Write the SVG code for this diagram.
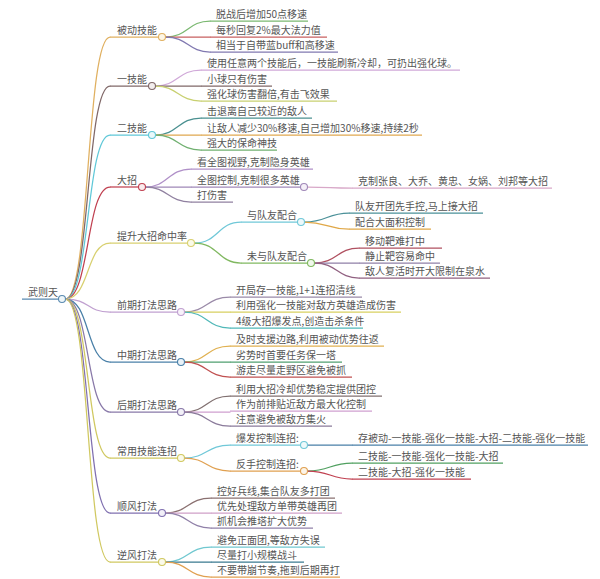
<svg xmlns="http://www.w3.org/2000/svg" width="600" height="579" viewBox="0 0 600 579">
<style>
text{font-family:"Noto Sans CJK SC","Noto Sans",sans-serif;font-size:10px;fill:#555}
.c{fill:none;stroke-width:1.25;stroke-linecap:round}
.u{stroke-width:1.25;fill:none}
.k{stroke-width:1.1}
</style>
<rect width="600" height="579" fill="#fff"/>
<g id="connectors" class="conn">
<path class="c" stroke="#e0b060" d="M65.5,299 C90,299 86,37 110,37"/>
<path class="c" stroke="#806868" d="M65.5,299 C90,299 86,86 110,86"/>
<path class="c" stroke="#60c8d8" d="M65.5,299 C90,299 86,135 110,135"/>
<path class="c" stroke="#c04050" d="M65.5,299 C90,299 86,187 110,187"/>
<path class="c" stroke="#d8d070" d="M65.5,299 C90,299 86,243 110,243"/>
<path class="c" stroke="#c0a0d0" d="M65.5,299 C90,299 86,312 110,312"/>
<path class="c" stroke="#4a80a8" d="M65.5,299 C90,299 86,362 110,362"/>
<path class="c" stroke="#8878a8" d="M65.5,299 C90,299 86,412 110,412"/>
<path class="c" stroke="#d0c860" d="M65.5,299 C90,299 86,458 110,458"/>
<path class="c" stroke="#8070b0" d="M65.5,299 C90,299 86,513 110,513"/>
<path class="c" stroke="#d0c860" d="M65.5,299 C90,299 86,562 110,562"/>
<path class="c" stroke="#7ab870" d="M165.5,37 C188,37 188,21 210,21"/>
<path class="c" stroke="#c86060" d="M165.5,37 L210,37"/>
<path class="c" stroke="#8078b0" d="M165.5,37 C188,37 188,52 210,52"/>
<path class="c" stroke="#d0a8d8" d="M155.5,86 C178,86 178,70 201,70"/>
<path class="c" stroke="#806868" d="M155.5,86 L201,86"/>
<path class="c" stroke="#c8d070" d="M155.5,86 C178,86 178,101 201,101"/>
<path class="c" stroke="#4a9090" d="M155.5,135 C178,135 178,118 201,118"/>
<path class="c" stroke="#e0a850" d="M155.5,135 L201,135"/>
<path class="c" stroke="#70b070" d="M155.5,135 C178,135 178,150 201,150"/>
<path class="c" stroke="#b090c8" d="M145.5,187 C168,187 168,169 191,169"/>
<path class="c" stroke="#a088b8" d="M145.5,187 L191,187"/>
<path class="c" stroke="#9080a0" d="M145.5,187 C168,187 168,202 191,202"/>
<path class="c" stroke="#d8a8c8" d="M307.5,187 C330,187 330,188 352,188"/>
<path class="c" stroke="#70c8d8" d="M194.5,243 C218,243 218,222 241,222"/>
<path class="c" stroke="#80b860" d="M194.5,243 C218,243 218,263 241,263"/>
<path class="c" stroke="#4a9098" d="M304.5,222 C327,222 327,213 349,213"/>
<path class="c" stroke="#e0a848" d="M304.5,222 C327,222 327,229 349,229"/>
<path class="c" stroke="#b05060" d="M314.5,263 C337,263 337,248 359,248"/>
<path class="c" stroke="#9080a8" d="M314.5,263 L359,263"/>
<path class="c" stroke="#906080" d="M314.5,263 C337,263 337,278 359,278"/>
<path class="c" stroke="#9a8aa8" d="M184.5,312 C207,312 207,297 230,297"/>
<path class="c" stroke="#d8d060" d="M184.5,312 L230,312"/>
<path class="c" stroke="#50b8b8" d="M184.5,312 C207,312 207,328 230,328"/>
<path class="c" stroke="#e0b050" d="M184.5,362 C207,362 207,346 230,346"/>
<path class="c" stroke="#50a070" d="M184.5,362 L230,362"/>
<path class="c" stroke="#c05050" d="M184.5,362 C207,362 207,377 230,377"/>
<path class="c" stroke="#807070" d="M184.5,412 C207,412 207,396 230,396"/>
<path class="c" stroke="#d0a0d0" d="M184.5,412 L230,412"/>
<path class="c" stroke="#8a7a9a" d="M184.5,412 C207,412 207,426 230,426"/>
<path class="c" stroke="#70c8d8" d="M184.5,458 C207,458 207,445 230,445"/>
<path class="c" stroke="#e0a050" d="M184.5,458 C207,458 207,471 230,471"/>
<path class="c" stroke="#4a80a8" d="M307.5,445 L352,445"/>
<path class="c" stroke="#50a060" d="M307.5,471 C330,471 330,463 352,463"/>
<path class="c" stroke="#c04050" d="M307.5,471 C330,471 330,479 352,479"/>
<path class="c" stroke="#8a7070" d="M165.5,513 C188,513 188,498 211,498"/>
<path class="c" stroke="#d0a0c8" d="M165.5,513 L211,513"/>
<path class="c" stroke="#9080a8" d="M165.5,513 C188,513 188,528 211,528"/>
<path class="c" stroke="#70c8d0" d="M165.5,562 C188,562 188,547 211,547"/>
<path class="c" stroke="#3a7a90" d="M165.5,562 L211,562"/>
<path class="c" stroke="#e0a050" d="M165.5,562 C188,562 188,577 211,577"/>
</g>

<g id="root">
<line class="u" x1="22" y1="299" x2="58.5" y2="299" stroke="#5a8ab0"/>
<text x="28" y="296">武则天</text>
<circle class="k" cx="62" cy="299" r="3.5" fill="#eef6f9" stroke="#5a8ab0"/>
</g>

<g id="n-beidong">
<line class="u" x1="110" y1="37" x2="158.5" y2="37" stroke="#e0b060"/>
<text x="117" y="34">被动技能</text>
<circle class="k" cx="162" cy="37" r="3.5" fill="#fdf6e6" stroke="#e0b060"/>
</g>
<g id="n-beidong-1"><line class="u" x1="210" y1="21" x2="308" y2="21" stroke="#7ab870"/><text x="216" y="18">脱战后增加50点移速</text></g>
<g id="n-beidong-2"><line class="u" x1="210" y1="37" x2="327" y2="37" stroke="#c86060"/><text x="216" y="34">每秒回复2%最大法力值</text></g>
<g id="n-beidong-3"><line class="u" x1="210" y1="52" x2="338" y2="52" stroke="#8078b0"/><text x="216" y="49">相当于自带蓝buff和高移速</text></g>

<g id="n-yi">
<line class="u" x1="110" y1="86" x2="148.5" y2="86" stroke="#806868"/>
<text x="117" y="83">一技能</text>
<circle class="k" cx="152" cy="86" r="3.5" fill="#f3eeee" stroke="#806868"/>
</g>
<g id="n-yi-1"><line class="u" x1="201" y1="70" x2="460" y2="70" stroke="#d0a8d8"/><text x="207" y="67">使用任意两个技能后，一技能刷新冷却，可扔出强化球。</text></g>
<g id="n-yi-2"><line class="u" x1="201" y1="86" x2="272" y2="86" stroke="#806868"/><text x="207" y="83">小球只有伤害</text></g>
<g id="n-yi-3"><line class="u" x1="201" y1="101" x2="337" y2="101" stroke="#c8d070"/><text x="207" y="98">强化球伤害翻倍,有击飞效果</text></g>

<g id="n-er">
<line class="u" x1="110" y1="135" x2="148.5" y2="135" stroke="#60c8d8"/>
<text x="117" y="132">二技能</text>
<circle class="k" cx="152" cy="135" r="3.5" fill="#eaf8fa" stroke="#60c8d8"/>
</g>
<g id="n-er-1"><line class="u" x1="201" y1="118" x2="312" y2="118" stroke="#4a9090"/><text x="207" y="115">击退离自己较近的敌人</text></g>
<g id="n-er-2"><line class="u" x1="201" y1="135" x2="422" y2="135" stroke="#e0a850"/><text x="207" y="132">让敌人减少30%移速,自己增加30%移速,持续2秒</text></g>
<g id="n-er-3"><line class="u" x1="201" y1="150" x2="277" y2="150" stroke="#70b070"/><text x="207" y="147">强大的保命神技</text></g>

<g id="n-dazhao">
<line class="u" x1="110" y1="187" x2="138.5" y2="187" stroke="#c04050"/>
<text x="117" y="184">大招</text>
<circle class="k" cx="142" cy="187" r="3.5" fill="#f9ecee" stroke="#c04050"/>
</g>
<g id="n-dazhao-1"><line class="u" x1="191" y1="169" x2="313" y2="169" stroke="#b090c8"/><text x="197" y="166">看全图视野,克制隐身英雄</text></g>
<g id="n-dazhao-2">
<line class="u" x1="191" y1="187" x2="300.5" y2="187" stroke="#a088b8"/>
<text x="197" y="184">全图控制,克制很多英雄</text>
<circle class="k" cx="304" cy="187" r="3.5" fill="#f5f0f8" stroke="#a088b8"/>
</g>
<g id="n-dazhao-2-1"><line class="u" x1="352" y1="188" x2="552" y2="188" stroke="#d8a8c8"/><text x="358" y="185">克制张良、大乔、黄忠、女娲、刘邦等大招</text></g>
<g id="n-dazhao-3"><line class="u" x1="191" y1="202" x2="233" y2="202" stroke="#9080a0"/><text x="197" y="199">打伤害</text></g>

<g id="n-tisheng">
<line class="u" x1="110" y1="243" x2="187.5" y2="243" stroke="#d8d070"/>
<text x="117" y="240">提升大招命中率</text>
<circle class="k" cx="191" cy="243" r="3.5" fill="#fbfbea" stroke="#d8d070"/>
</g>
<g id="n-tisheng-1">
<line class="u" x1="241" y1="222" x2="297.5" y2="222" stroke="#70c8d8"/>
<text x="247" y="219">与队友配合</text>
<circle class="k" cx="301" cy="222" r="3.5" fill="#eef9fb" stroke="#70c8d8"/>
</g>
<g id="n-tisheng-1-1"><line class="u" x1="349" y1="213" x2="483" y2="213" stroke="#4a9098"/><text x="355" y="210">队友开团先手控,马上接大招</text></g>
<g id="n-tisheng-1-2"><line class="u" x1="349" y1="229" x2="431" y2="229" stroke="#e0a848"/><text x="355" y="226">配合大面积控制</text></g>
<g id="n-tisheng-2">
<line class="u" x1="241" y1="263" x2="307.5" y2="263" stroke="#80b860"/>
<text x="247" y="260">未与队友配合</text>
<circle class="k" cx="311" cy="263" r="3.5" fill="#f1f8ec" stroke="#80b860"/>
</g>
<g id="n-tisheng-2-1"><line class="u" x1="359" y1="248" x2="442" y2="248" stroke="#b05060"/><text x="365" y="245">移动靶难打中</text></g>
<g id="n-tisheng-2-2"><line class="u" x1="359" y1="263" x2="440" y2="263" stroke="#9080a8"/><text x="365" y="260">静止靶容易命中</text></g>
<g id="n-tisheng-2-3"><line class="u" x1="359" y1="278" x2="490" y2="278" stroke="#906080"/><text x="365" y="275">敌人复活时开大限制在泉水</text></g>

<g id="n-qianqi">
<line class="u" x1="110" y1="312" x2="177.5" y2="312" stroke="#c0a0d0"/>
<text x="117" y="309">前期打法思路</text>
<circle class="k" cx="181" cy="312" r="3.5" fill="#f8f2fa" stroke="#c0a0d0"/>
</g>
<g id="n-qianqi-1"><line class="u" x1="230" y1="297" x2="362" y2="297" stroke="#9a8aa8"/><text x="236" y="294">开局存一技能,1+1连招清线</text></g>
<g id="n-qianqi-2"><line class="u" x1="230" y1="312" x2="401" y2="312" stroke="#d8d060"/><text x="236" y="309">利用强化一技能对敌方英雄造成伤害</text></g>
<g id="n-qianqi-3"><line class="u" x1="230" y1="328" x2="363" y2="328" stroke="#50b8b8"/><text x="236" y="325">4级大招爆发点,创造击杀条件</text></g>

<g id="n-zhongqi">
<line class="u" x1="110" y1="362" x2="177.5" y2="362" stroke="#4a80a8"/>
<text x="117" y="359">中期打法思路</text>
<circle class="k" cx="181" cy="362" r="3.5" fill="#eaf2f8" stroke="#4a80a8"/>
</g>
<g id="n-zhongqi-1"><line class="u" x1="230" y1="346" x2="384" y2="346" stroke="#e0b050"/><text x="236" y="343">及时支援边路,利用被动优势往返</text></g>
<g id="n-zhongqi-2"><line class="u" x1="230" y1="362" x2="342" y2="362" stroke="#50a070"/><text x="236" y="359">劣势时首要任务保一塔</text></g>
<g id="n-zhongqi-3"><line class="u" x1="230" y1="377" x2="352" y2="377" stroke="#c05050"/><text x="236" y="374">游走尽量走野区避免被抓</text></g>

<g id="n-houqi">
<line class="u" x1="110" y1="412" x2="177.5" y2="412" stroke="#8878a8"/>
<text x="117" y="409">后期打法思路</text>
<circle class="k" cx="181" cy="412" r="3.5" fill="#f3f1f8" stroke="#8878a8"/>
</g>
<g id="n-houqi-1"><line class="u" x1="230" y1="396" x2="382" y2="396" stroke="#807070"/><text x="236" y="393">利用大招冷却优势稳定提供团控</text></g>
<g id="n-houqi-2"><line class="u" x1="230" y1="411" x2="372" y2="411" stroke="#d0a0d0"/><text x="236" y="408">作为前排贴近敌方最大化控制</text></g>
<g id="n-houqi-3"><line class="u" x1="230" y1="426" x2="332" y2="426" stroke="#8a7a9a"/><text x="236" y="423">注意避免被敌方集火</text></g>

<g id="n-lianzhao">
<line class="u" x1="110" y1="458" x2="177.5" y2="458" stroke="#d0c860"/>
<text x="117" y="455">常用技能连招</text>
<circle class="k" cx="181" cy="458" r="3.5" fill="#fbfaea" stroke="#d0c860"/>
</g>
<g id="n-lianzhao-1">
<line class="u" x1="230" y1="445" x2="300.5" y2="445" stroke="#70c8d8"/>
<text x="236" y="442">爆发控制连招:</text>
<circle class="k" cx="304" cy="445" r="3.5" fill="#eef9fb" stroke="#70c8d8"/>
</g>
<g id="n-lianzhao-1-1"><line class="u" x1="352" y1="445" x2="588" y2="445" stroke="#4a80a8"/><text x="358" y="442">存被动-一技能-强化一技能-大招-二技能-强化一技能</text></g>
<g id="n-lianzhao-2">
<line class="u" x1="230" y1="471" x2="300.5" y2="471" stroke="#e0a050"/>
<text x="236" y="468">反手控制连招:</text>
<circle class="k" cx="304" cy="471" r="3.5" fill="#fcf4e8" stroke="#e0a050"/>
</g>
<g id="n-lianzhao-2-1"><line class="u" x1="352" y1="463" x2="503" y2="463" stroke="#50a060"/><text x="358" y="460">二技能-一技能-强化一技能-大招</text></g>
<g id="n-lianzhao-2-2"><line class="u" x1="352" y1="479" x2="471" y2="479" stroke="#c04050"/><text x="358" y="476">二技能-大招-强化一技能</text></g>

<g id="n-shunfeng">
<line class="u" x1="110" y1="513" x2="158.5" y2="513" stroke="#8070b0"/>
<text x="117" y="510">顺风打法</text>
<circle class="k" cx="162" cy="513" r="3.5" fill="#f2f0f8" stroke="#8070b0"/>
</g>
<g id="n-shunfeng-1"><line class="u" x1="211" y1="498" x2="335" y2="498" stroke="#8a7070"/><text x="217" y="495">控好兵线,集合队友多打团</text></g>
<g id="n-shunfeng-2"><line class="u" x1="211" y1="513" x2="342" y2="513" stroke="#d0a0c8"/><text x="217" y="510">优先处理敌方单带英雄再团</text></g>
<g id="n-shunfeng-3"><line class="u" x1="211" y1="528" x2="313" y2="528" stroke="#9080a8"/><text x="217" y="525">抓机会推塔扩大优势</text></g>

<g id="n-nifeng">
<line class="u" x1="110" y1="562" x2="158.5" y2="562" stroke="#d0c860"/>
<text x="117" y="559">逆风打法</text>
<circle class="k" cx="162" cy="562" r="3.5" fill="#fbfaea" stroke="#d0c860"/>
</g>
<g id="n-nifeng-1"><line class="u" x1="211" y1="547" x2="325" y2="547" stroke="#70c8d0"/><text x="217" y="544">避免正面团,等敌方失误</text></g>
<g id="n-nifeng-2"><line class="u" x1="211" y1="562" x2="304" y2="562" stroke="#3a7a90"/><text x="217" y="559">尽量打小规模战斗</text></g>
<g id="n-nifeng-3"><line class="u" x1="211" y1="577" x2="340" y2="577" stroke="#e0a050"/><text x="217" y="574">不要带崩节奏,拖到后期再打</text></g>
</svg>
